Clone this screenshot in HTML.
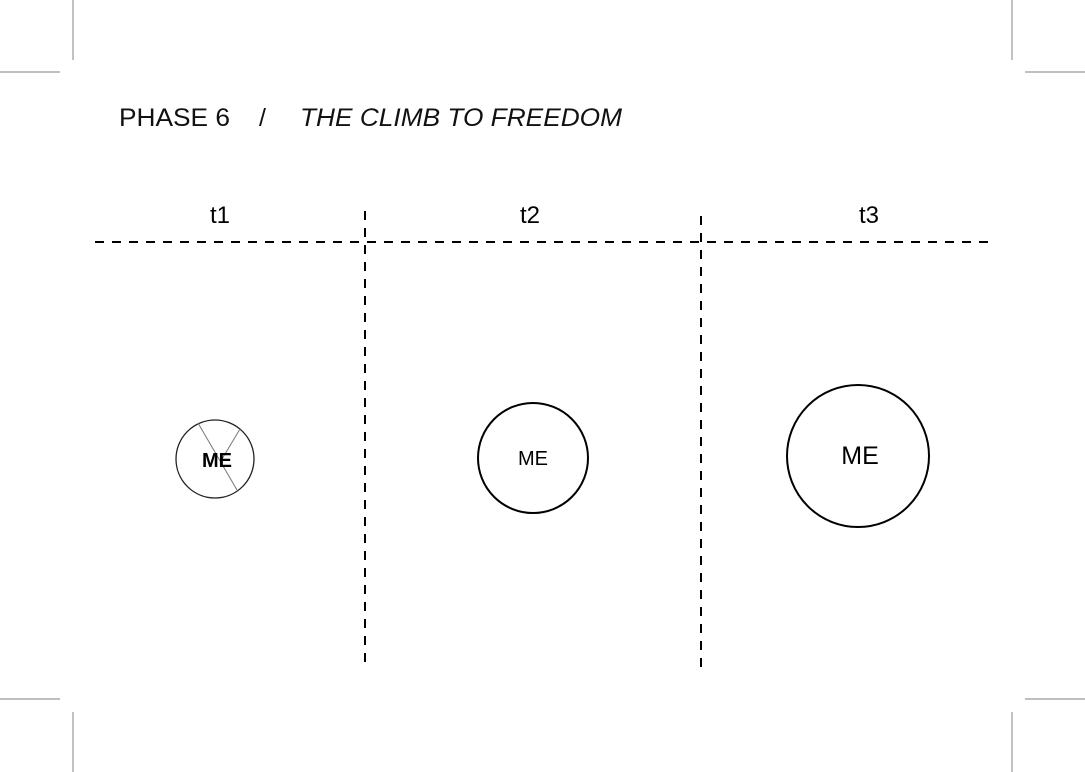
<!DOCTYPE html>
<html><head><style>body{margin:0;background:#fff}svg{display:block}</style></head>
<body>
<svg width="1085" height="772" xmlns="http://www.w3.org/2000/svg" font-family="Liberation Sans, Arial, sans-serif">
<g stroke="#999" stroke-width="1.2">
<line x1="73" y1="0" x2="73" y2="60"/><line x1="0" y1="72" x2="60" y2="72"/>
<line x1="1012" y1="0" x2="1012" y2="60"/><line x1="1025" y1="72" x2="1085" y2="72"/>
<line x1="73" y1="712" x2="73" y2="772"/><line x1="0" y1="699" x2="60" y2="699"/>
<line x1="1012" y1="712" x2="1012" y2="772"/><line x1="1025" y1="699" x2="1085" y2="699"/>
</g>
<text x="119" y="126" font-size="25" fill="#111" textLength="111" lengthAdjust="spacingAndGlyphs">PHASE 6</text>
<text x="259" y="126" font-size="25" fill="#111">/</text>
<text x="300" y="126" font-size="25" font-style="italic" fill="#111" textLength="322" lengthAdjust="spacingAndGlyphs">THE CLIMB TO FREEDOM</text>
<text x="220" y="223" font-size="24" text-anchor="middle">t1</text>
<text x="530" y="223" font-size="24" text-anchor="middle">t2</text>
<text x="869" y="223" font-size="24" text-anchor="middle">t3</text>
<g stroke="#000" stroke-width="2" stroke-dasharray="9 8">
<line x1="95" y1="242" x2="992" y2="242"/>
<line x1="365" y1="211" x2="365" y2="662"/>
<line x1="701" y1="216" x2="701" y2="668"/>
</g>
<circle cx="215" cy="459" r="39" fill="none" stroke="#222" stroke-width="1.3"/>
<line x1="198" y1="423" x2="237" y2="490" stroke="#777" stroke-width="1"/>
<line x1="240" y1="429" x2="222" y2="459" stroke="#777" stroke-width="1"/>
<text x="217" y="467" font-size="20" font-weight="bold" text-anchor="middle">ME</text>
<circle cx="533" cy="458" r="55" fill="none" stroke="#000" stroke-width="2"/>
<text x="533" y="465" font-size="20" text-anchor="middle">ME</text>
<circle cx="858" cy="456" r="71" fill="none" stroke="#000" stroke-width="2"/>
<text x="860" y="464" font-size="25" text-anchor="middle">ME</text>
</svg>
</body></html>
